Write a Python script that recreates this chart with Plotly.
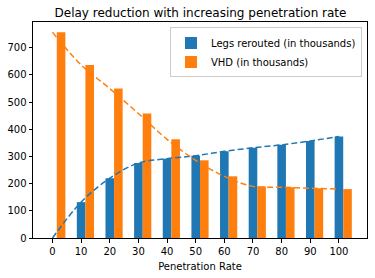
import plotly.graph_objects as go

rates = [0, 10, 20, 30, 40, 50, 60, 70, 80, 90, 100]
legs_rerouted = [0, 132, 220, 276, 292, 303, 319, 332, 343, 357, 374]
vhd = [757, 637, 550, 458, 363, 286, 227, 190, 187, 183, 180]
x_ticks = [0, 10, 20, 30, 40, 50, 60, 70, 80, 90, 100]
y_ticks = [0, 100, 200, 300, 400, 500, 600, 700]

BLUE = "#1f77b4"
ORANGE = "#ff7f0e"

fig = go.Figure()
fig.add_trace(go.Bar(x=rates, y=legs_rerouted, width=3, offset=-1.5,
                     marker=dict(color=BLUE, line=dict(width=0)),
                     name="Legs rerouted (in thousands)"))
fig.add_trace(go.Bar(x=rates, y=vhd, width=3, offset=1.5,
                     marker=dict(color=ORANGE, line=dict(width=0)),
                     name="VHD (in thousands)"))
fig.add_trace(go.Scatter(x=rates, y=legs_rerouted, mode="lines",
                         line=dict(color=BLUE, dash="6px,3px", width=1.5, shape="spline", smoothing=1),
                         showlegend=False, hoverinfo="skip"))
fig.add_trace(go.Scatter(x=rates, y=vhd, mode="lines",
                         line=dict(color=ORANGE, dash="6px,3px", width=1.5, shape="spline", smoothing=1),
                         showlegend=False, hoverinfo="skip"))

axis_common = dict(showline=True, linecolor="black", linewidth=1, mirror=True,
                   ticks="outside", ticklen=3.5, tickcolor="black", tickwidth=1,
                   showgrid=False, zeroline=False,
                   tickfont=dict(family="DejaVu Sans", size=10, color="black"))

fig.update_layout(
    width=375, height=278,
    margin=dict(l=33, r=7, t=22, b=38),
    barmode="overlay",
    plot_bgcolor="white", paper_bgcolor="white",
    title=dict(text="Delay reduction with increasing penetration rate",
               x=(33 + 368) / 2 / 375, xanchor="center", y=1 - 13 / 278, yanchor="middle",
               font=dict(family="DejaVu Sans", size=12, color="black")),
    xaxis=dict(range=[-6.8, 109.8], tickvals=x_ticks,
               title=dict(text="Penetration Rate", standoff=7,
                          font=dict(family="DejaVu Sans", size=10, color="black")),
               **axis_common),
    yaxis=dict(range=[0, 795], tickvals=y_ticks, **axis_common),
    legend=dict(x=0.985, y=0.975, xanchor="right", yanchor="top",
                bgcolor="rgba(255,255,255,0.8)", bordercolor="#cccccc", borderwidth=1,
                font=dict(family="DejaVu Sans", size=10, color="black"),
                tracegroupgap=0, itemwidth=30),
    showlegend=True,
    hovermode=False,
)

fig.write_html("out.html", config={"displayModeBar": False, "staticPlot": True},
               post_script="document.body.style.margin='0';document.body.style.overflow='hidden';")
